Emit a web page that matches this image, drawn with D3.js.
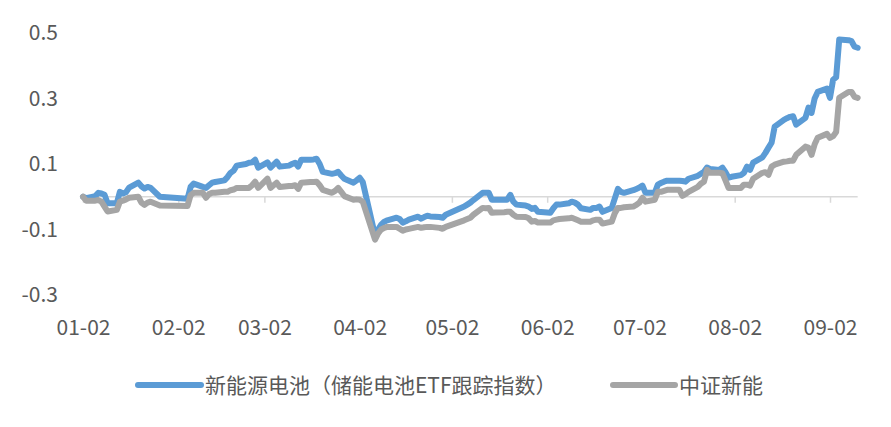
<!DOCTYPE html>
<html>
<head>
<meta charset="utf-8">
<script src="https://cdn.jsdelivr.net/npm/d3@7/dist/d3.min.js"></script>
<style>
html,body{margin:0;padding:0;background:#fff;}
svg{display:block;}
text{font-family:"Noto Sans CJK SC","Noto Sans",sans-serif;fill:#595959;}
</style>
</head>
<body>
<svg id="chart" width="891" height="427"></svg>
<script>
const dates = ["01-02","01-03","01-06","01-07","01-08","01-09","01-10","01-13","01-14","01-15","01-16","01-17","01-20","01-21","01-22","01-23","01-24","01-27",
"02-05","02-06","02-07","02-10","02-11","02-12","02-13","02-14","02-17","02-18","02-19","02-20","02-21","02-24","02-25","02-26","02-27","02-28",
"03-03","03-04","03-05","03-06","03-07","03-10","03-11","03-12","03-13","03-14","03-17","03-18","03-19","03-20","03-21","03-24","03-25","03-26","03-27","03-28","03-31",
"04-01","04-02","04-03","04-07","04-08","04-09","04-10","04-11","04-14","04-15","04-16","04-17","04-18","04-21","04-22","04-23","04-24","04-25","04-28","04-29","04-30",
"05-06","05-07","05-08","05-09","05-12","05-13","05-14","05-15","05-16","05-19","05-20","05-21","05-22","05-23","05-26","05-27","05-28","05-29","05-30",
"06-03","06-04","06-05","06-06","06-09","06-10","06-11","06-12","06-13","06-16","06-17","06-18","06-19","06-20","06-23","06-24","06-25","06-26","06-27","06-30",
"07-01","07-02","07-03","07-04","07-07","07-08","07-09","07-10","07-11","07-14","07-15","07-16","07-17","07-18","07-21","07-22","07-23","07-24","07-25","07-28","07-29","07-30","07-31",
"08-01","08-04","08-05","08-06","08-07","08-08","08-11","08-12","08-13","08-14","08-15","08-18","08-19","08-20","08-21","08-22","08-25","08-26","08-27","08-28","08-29",
"09-01","09-02","09-03","09-04","09-05","09-08","09-09","09-10","09-11"];

const battery = [0.000,-0.004,0.002,0.012,0.010,0.006,-0.020,-0.020,0.015,0.010,0.014,0.028,0.043,0.032,0.025,0.030,0.027,0.000,
-0.006,0.030,0.040,0.030,0.027,0.035,0.043,0.045,0.050,0.060,0.073,0.080,0.095,0.100,0.104,0.105,0.113,0.089,
0.105,0.089,0.098,0.107,0.092,0.095,0.100,0.104,0.092,0.113,0.113,0.114,0.116,0.100,0.076,0.070,0.072,0.076,0.065,0.055,0.043,
0.050,0.058,0.045,-0.118,-0.100,-0.085,-0.076,-0.072,-0.064,-0.068,-0.079,-0.075,-0.070,-0.061,-0.067,-0.062,-0.058,-0.060,-0.062,-0.064,-0.055,
-0.030,-0.024,-0.018,-0.010,0.012,0.012,0.012,-0.009,-0.009,-0.009,-0.009,0.006,-0.015,-0.024,-0.027,-0.030,-0.037,-0.034,-0.046,
-0.049,-0.035,-0.024,-0.024,-0.020,-0.015,-0.018,-0.024,-0.035,-0.040,-0.034,-0.034,-0.030,-0.046,-0.034,-0.005,0.024,0.015,0.012,0.020,
0.024,0.028,0.034,0.012,0.012,0.037,0.042,0.046,0.049,0.049,0.049,0.048,0.046,0.055,0.064,0.070,0.076,0.089,0.085,0.082,0.089,0.075,0.058,
0.061,0.066,0.073,0.092,0.082,0.104,0.120,0.134,0.150,0.165,0.214,0.235,0.240,0.244,0.246,0.220,0.241,0.272,0.256,0.300,0.320,
0.330,0.302,0.357,0.365,0.480,0.478,0.475,0.458,0.455];

const csiNewEnergy = [0.000,-0.012,-0.012,-0.010,-0.015,-0.030,-0.045,-0.040,-0.015,-0.012,-0.008,-0.003,0.000,-0.018,-0.025,-0.018,-0.015,-0.027,
-0.028,0.005,0.012,0.012,-0.003,0.008,0.012,0.012,0.015,0.015,0.020,0.022,0.027,0.027,0.027,0.035,0.046,0.027,
0.055,0.027,0.035,0.043,0.030,0.033,0.033,0.035,0.024,0.043,0.045,0.045,0.046,0.035,0.021,0.012,0.018,0.027,0.015,0.002,-0.009,
-0.008,-0.009,-0.015,-0.131,-0.112,-0.100,-0.095,-0.092,-0.092,-0.098,-0.104,-0.100,-0.098,-0.092,-0.095,-0.093,-0.092,-0.092,-0.095,-0.098,-0.092,
-0.072,-0.068,-0.064,-0.055,-0.034,-0.035,-0.034,-0.049,-0.048,-0.047,-0.046,-0.046,-0.055,-0.061,-0.062,-0.066,-0.076,-0.074,-0.079,
-0.079,-0.072,-0.070,-0.068,-0.066,-0.064,-0.068,-0.072,-0.076,-0.076,-0.072,-0.070,-0.070,-0.082,-0.076,-0.050,-0.034,-0.034,-0.032,-0.030,
-0.025,-0.018,-0.003,-0.015,-0.009,0.015,0.015,0.018,0.021,0.021,0.021,0.003,0.008,0.015,0.030,0.040,0.046,0.082,0.073,0.073,0.072,0.050,0.027,
0.027,0.027,0.037,0.037,0.034,0.055,0.073,0.075,0.067,0.092,0.098,0.107,0.108,0.110,0.110,0.128,0.153,0.150,0.128,0.160,0.180,
0.192,0.180,0.185,0.198,0.302,0.320,0.320,0.305,0.302];

const xTickLabels = ["01-02","02-02","03-02","04-02","05-02","06-02","07-02","08-02","09-02"];
const yTickValues = [-0.3,-0.1,0.1,0.3,0.5];
const seriesNames = ["新能源电池（储能电池ETF跟踪指数）","中证新能"];
const seriesColors = ["#5B9BD5","#A5A5A5"];
const year = 2025;

const parse = d3.utcParse("%Y-%m-%d");
const toDate = s => parse(year + "-" + s);

const svg = d3.select("#chart");
const x = d3.scaleUtc().domain([toDate("01-02"), toDate("09-02")]).range([83, 830]);
const y = d3.scaleLinear().domain([-0.3, 0.5]).range([295, 33]);

const tickDates = xTickLabels.map(toDate);
const firstDate = toDate(dates[0]);
const lastDate = toDate(dates[dates.length - 1]);

// zero axis line with ticks
const axisG = svg.append("g").attr("transform", `translate(0,${y(0)})`);
axisG.append("line")
  .attr("x1", x(firstDate) - 1).attr("x2", x(lastDate))
  .attr("stroke", "#D9D9D9").attr("stroke-width", 1.5);
axisG.call(g => {
  const ax = d3.axisBottom(x).tickValues(tickDates).tickSize(6).tickSizeOuter(0).tickFormat("");
  g.append("g").call(ax).call(s => s.select(".domain").remove())
    .selectAll(".tick line").attr("stroke", "#D9D9D9").attr("stroke-width", 1.5);
});

// x labels at bottom
const xLab = svg.append("g").attr("transform", "translate(0,314)")
  .call(d3.axisBottom(x).tickValues(tickDates).tickSize(0).tickPadding(0).tickFormat((d, i) => xTickLabels[i]));
xLab.select(".domain").remove();
xLab.selectAll("text").attr("font-size", 21).attr("fill", "#595959")
  .attr("font-family", '"Noto Sans CJK SC","Noto Sans",sans-serif')
  .attr("dy", "0").attr("y", 21);

// y labels
const yLab = svg.append("g").attr("transform", "translate(58,0)")
  .call(d3.axisLeft(y).tickValues(yTickValues).tickSize(0).tickPadding(0).tickFormat(d3.format(".1f")));
yLab.select(".domain").remove();
yLab.selectAll("text").attr("font-size", 21).attr("fill", "#595959")
  .attr("font-family", '"Noto Sans CJK SC","Noto Sans",sans-serif')
  .text(d => d3.format(".1f")(d).replace("−", "-"));

// lines
const seriesData = [battery, csiNewEnergy];
const line = d3.line().x((d, i) => x(toDate(dates[i]))).y(d => y(d)).curve(d3.curveLinear);
seriesData.forEach((vals, k) => {
  svg.append("path").datum(vals)
    .attr("fill", "none").attr("stroke", seriesColors[k])
    .attr("stroke-width", 6).attr("stroke-linejoin", "round").attr("stroke-linecap", "round")
    .attr("d", line);
});

// legend
const legendItems = [{x1: 138, x2: 201, tx: 205}, {x1: 613, x2: 675, tx: 679}];
legendItems.forEach((it, k) => {
  svg.append("line").attr("x1", it.x1).attr("x2", it.x2).attr("y1", 385).attr("y2", 385)
    .attr("stroke", seriesColors[k]).attr("stroke-width", 6).attr("stroke-linecap", "round");
  svg.append("text").attr("x", it.tx).attr("y", 385).attr("dy", "0.36em")
    .attr("font-size", 21).text(seriesNames[k]);
});
</script>
</body>
</html>
